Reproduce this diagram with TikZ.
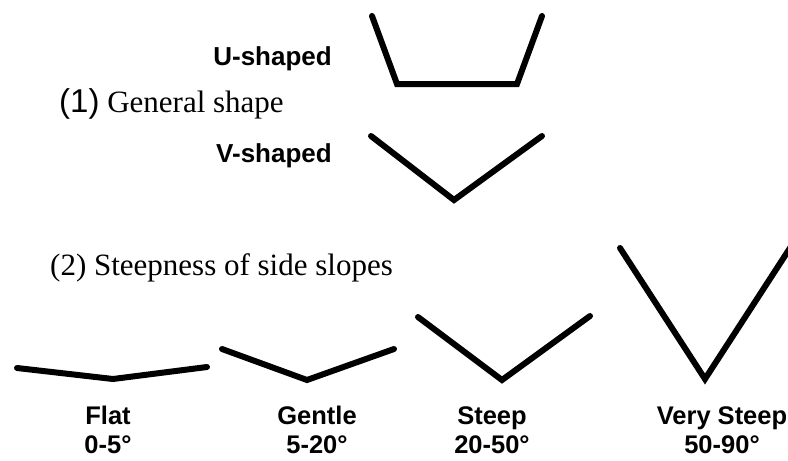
\documentclass[tikz,border=0pt]{standalone}
\usepackage{fontspec}
\setmainfont{Liberation Serif}
\setsansfont{Liberation Sans}
\begin{document}
\begin{tikzpicture}[
    x=1pt, y=-1pt,
    profile/.style={line width=6pt, line cap=round},
    kind/.style={font=\sffamily\bfseries\fontsize{26}{29}\selectfont, inner sep=0pt, anchor=base east},
    heading/.style={font=\fontsize{31}{36}\selectfont, inner sep=0pt, anchor=base west},
    slope/.style={font=\sffamily\bfseries\fontsize{25.5}{29}\selectfont, align=center, inner sep=0pt, anchor=base}
]
\useasboundingbox (0,0) rectangle (788,461);
\clip (0,0) rectangle (788,461);
% (1) General shape
\node[heading] (general) at (59,112) {{\sffamily\fontsize{33}{36}\selectfont (1)} General shape};
\node[kind] (ushaped) at (332,65) {U-shaped};
\node[kind] (vshaped) at (332,162) {V-shaped};
\draw[profile] (372,16) -- (397,84) -- (517,84) -- (542,16);
\draw[profile] (371,136) -- (454,200) -- (542,136);

% (2) Steepness of side slopes
\node[heading] (steepness) at (50,275) {(2) Steepness of side slopes};
\draw[profile] (17,368) -- (113,379) -- (207,367);
\draw[profile] (222,349) -- (307,380) -- (394,349);
\draw[profile] (418,317) -- (502,380) -- (590,316);
\draw[profile] (620,248) -- (705,379) -- (790,248);
\node[slope] (flat) at (108,453) {Flat\\0-5°};
\node[slope] (gentle) at (317,453) {Gentle\\5-20°};
\node[slope] (steep) at (492,453) {Steep\\20-50°};
\node[slope] (verysteep) at (722,453) {Very Steep\\50-90°};
\end{tikzpicture}
\end{document}
